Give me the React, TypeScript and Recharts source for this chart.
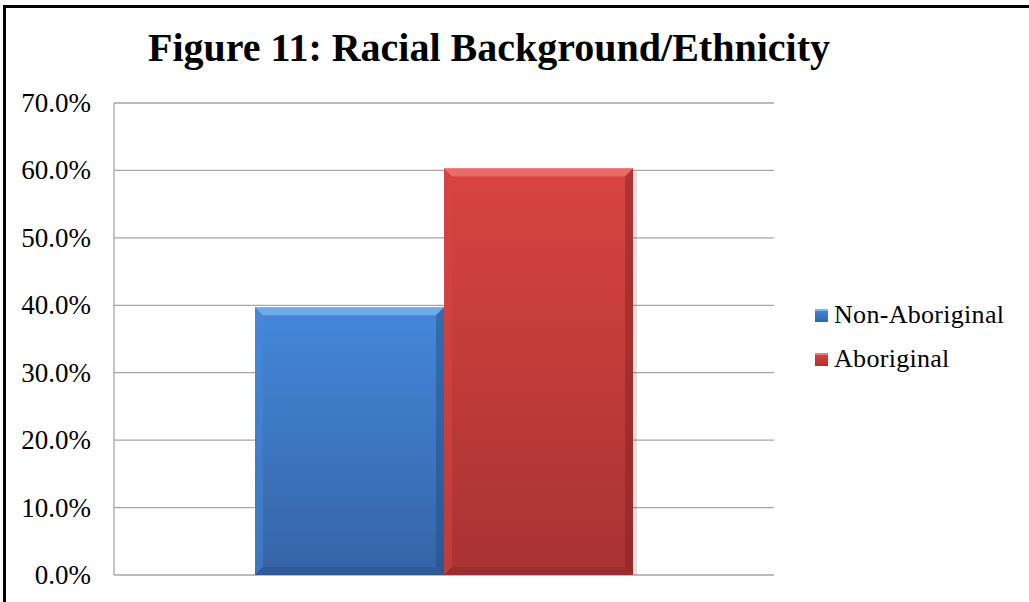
import React from "react";
import { Bar, BarChart, CartesianGrid, Legend, XAxis, YAxis } from "recharts";

const categories = ["Racial Background"];
const nonAboriginal = [39.7];
const aboriginal = [60.3];
const yTicks = [0, 10, 20, 30, 40, 50, 60, 70];
const seriesOrder = ["nonAboriginal", "aboriginal"];

const chartData = categories.map((name, i) => ({
  name,
  nonAboriginal: nonAboriginal[i],
  aboriginal: aboriginal[i],
}));

const palette: Record<string, { top: string; bottom: string; light: string; dark: string }> = {
  nonAboriginal: { top: "#4488da", bottom: "#3564a6", light: "#7fb6f0", dark: "#24497e" },
  aboriginal: { top: "#d84441", bottom: "#a93333", light: "#f07a77", dark: "#7e2222" },
};

const serif = "'Liberation Serif', 'Times New Roman', serif";

// bar with a vertical gradient and bevelled edges
const BevelBar = (props: any) => {
  const { x, y, width: w, height: h, dataKey } = props;
  const c = palette[dataKey as string];
  const b = Math.min(8, w / 4, h / 4);
  const id = `grad-${dataKey}`;
  return (
    <g>
      <defs>
        <linearGradient id={id} x1="0" y1="0" x2="0" y2="1">
          <stop offset="0%" stopColor={c.top} />
          <stop offset="100%" stopColor={c.bottom} />
        </linearGradient>
      </defs>
      <rect x={x + w} y={y + 3} width={4} height={h - 3} fill="#000" opacity={0.12} />
      <rect x={x} y={y} width={w} height={h} fill={`url(#${id})`} />
      <polygon
        points={`${x},${y} ${x + w},${y} ${x + w - b},${y + b} ${x + b},${y + b}`}
        fill={c.light}
        opacity={0.75}
      />
      <polygon
        points={`${x},${y} ${x + b},${y + b} ${x + b},${y + h - b} ${x},${y + h}`}
        fill={c.top}
        opacity={0.5}
      />
      <polygon
        points={`${x + w},${y} ${x + w},${y + h} ${x + w - b},${y + h - b} ${x + w - b},${y + b}`}
        fill={c.dark}
        opacity={0.45}
      />
      <polygon
        points={`${x},${y + h} ${x + w},${y + h} ${x + w - b},${y + h - b} ${x + b},${y + h - b}`}
        fill={c.dark}
        opacity={0.35}
      />
    </g>
  );
};

// y tick label, right-aligned a fixed distance left of the axis
const PercentTick = (props: any) => {
  const { y, payload } = props;
  return (
    <text
      x={91}
      y={y}
      textAnchor="end"
      dominantBaseline="central"
      fill="#000"
      fontFamily={serif}
      fontSize={27}
    >
      {`${Number(payload.value).toFixed(1)}%`}
    </text>
  );
};

const LegendContent = (props: any) => {
  const payload = [...(props.payload || [])].sort(
    (a: any, b: any) => seriesOrder.indexOf(a.dataKey) - seriesOrder.indexOf(b.dataKey)
  );
  return (
    <div>
      {payload.map((entry: any) => {
        const c = palette[entry.dataKey as string];
        return (
          <div
            key={entry.value}
            style={{
              display: "flex",
              alignItems: "center",
              height: 44,
              fontFamily: serif,
              fontSize: 26,
              letterSpacing: 0.3,
              color: "#000",
              whiteSpace: "nowrap",
            }}
          >
            <span
              style={{
                display: "inline-block",
                width: 13,
                height: 13,
                marginRight: 6,
                background: `linear-gradient(${c.top}, ${c.bottom})`,
                boxShadow: `inset 0 2px 0 ${c.light}`,
              }}
            />
            {entry.value}
          </div>
        );
      })}
    </div>
  );
};

export default function App() {
  return (
    <div
      style={{
        position: "fixed",
        left: 0,
        top: 0,
        width: 1029,
        height: 602,
        overflow: "hidden",
        background: "#fff",
        fontFamily: serif,
      }}
    >
      <div
        style={{
          position: "absolute",
          left: 3,
          top: 5,
          width: 1100,
          height: 700,
          borderTop: "3px solid #000",
          borderLeft: "3px solid #000",
        }}
      />
      <div
        style={{
          position: "absolute",
          left: 489,
          top: 24,
          transform: "translateX(-50%)",
          fontWeight: "bold",
          fontSize: 40,
          whiteSpace: "nowrap",
          color: "#000",
        }}
      >
        Figure 11: Racial Background/Ethnicity
      </div>
      <div style={{ position: "absolute", left: 0, top: 0 }}>
        <BarChart
          width={1029}
          height={602}
          data={chartData}
          margin={{ top: 103, right: 45, bottom: 27, left: 14 }}
          barCategoryGap={141}
          barGap={0}
        >
          <CartesianGrid vertical={false} stroke="#a6a6a6" strokeWidth={1.3} />
          <XAxis dataKey="name" hide />
          <YAxis
            width={100}
            domain={[0, 70]}
            ticks={yTicks}
            interval={0}
            axisLine={{ stroke: "#a6a6a6", strokeWidth: 1.3 }}
            tickLine={false}
            tick={<PercentTick />}
          />
          <Legend
            layout="vertical"
            verticalAlign="top"
            align="right"
            content={<LegendContent />}
            wrapperStyle={{ position: "absolute", left: 815, top: 293, width: 210 }}
          />
          <Bar
            dataKey="nonAboriginal"
            name="Non-Aboriginal"
            fill="#4488da"
            shape={<BevelBar />}
            isAnimationActive={false}
          />
          <Bar
            dataKey="aboriginal"
            name="Aboriginal"
            fill="#d84441"
            shape={<BevelBar />}
            isAnimationActive={false}
          />
        </BarChart>
      </div>
    </div>
  );
}
